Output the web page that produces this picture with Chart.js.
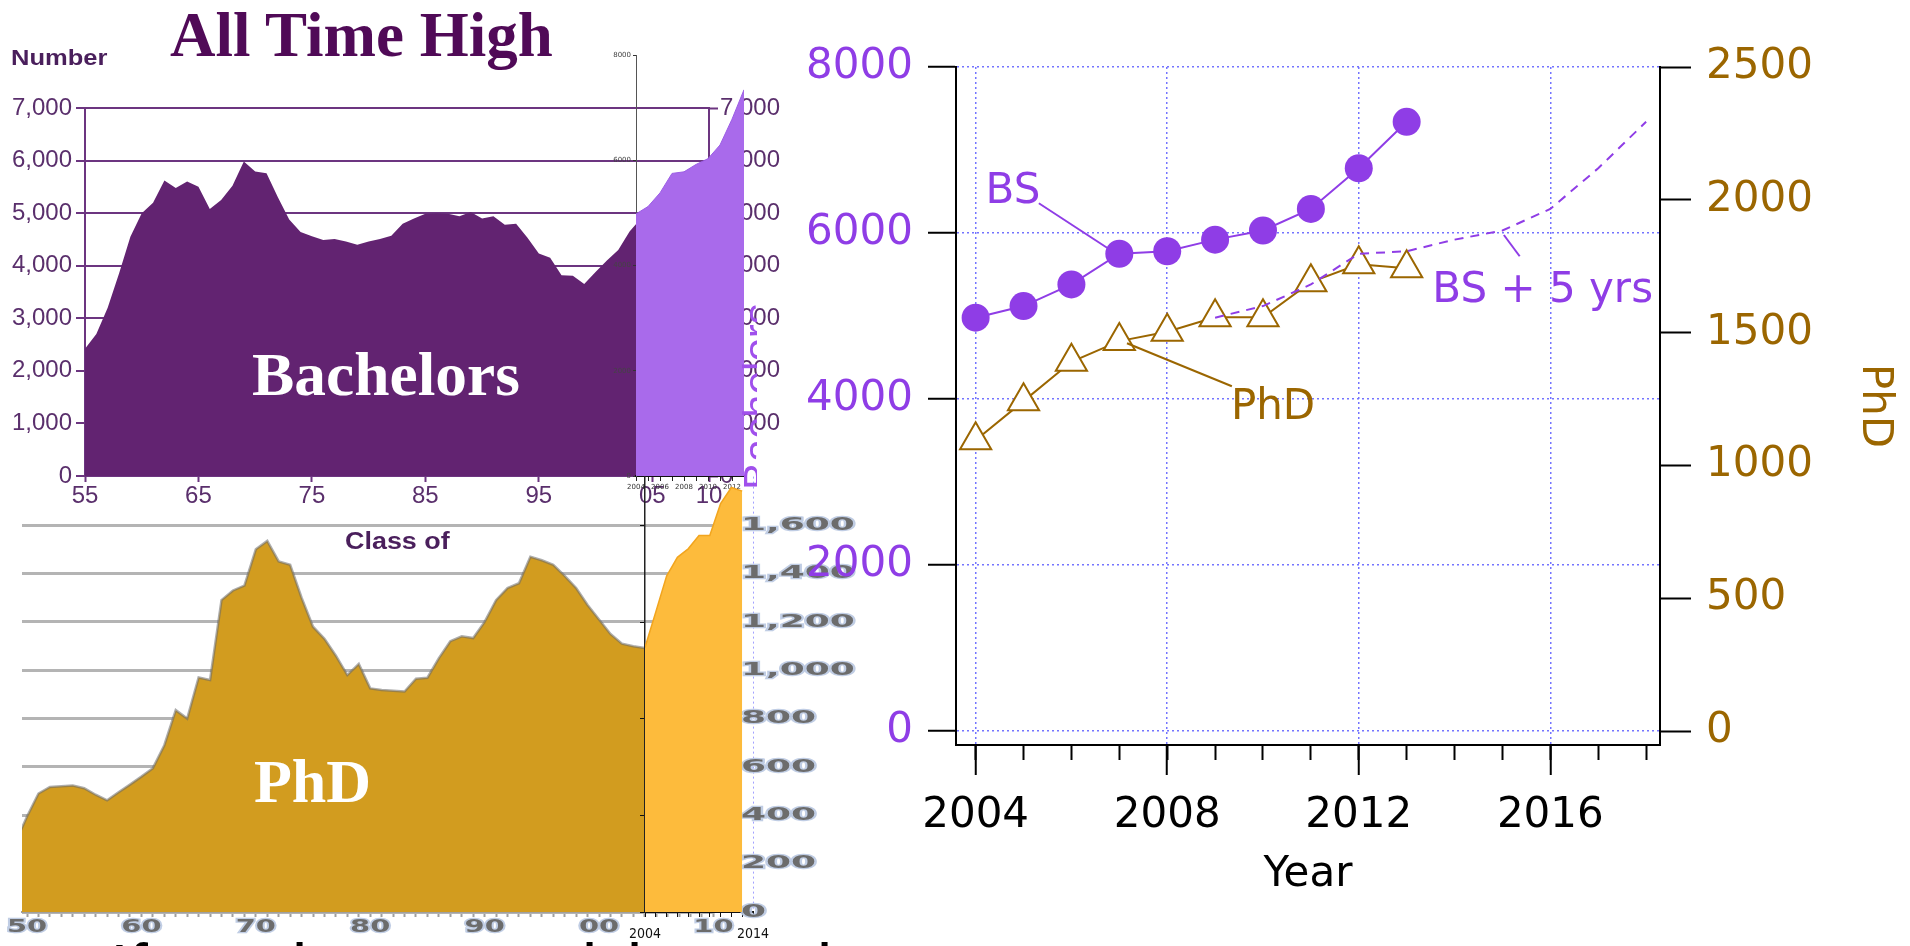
<!DOCTYPE html>
<html>
<head>
<meta charset="utf-8">
<script src="https://cdn.jsdelivr.net/npm/chart.js@4.4.1/dist/chart.umd.min.js"></script>
<style>
  html, body { margin: 0; padding: 0; background: #fff; width: 1910px; height: 946px; overflow: hidden; }
  canvas { position: absolute; left: 0; top: 0; }
  .t { position: absolute; white-space: nowrap; transform-origin: 0 0; }
</style>
</head>
<body>
<canvas id="bachChart" width="1910" height="946"></canvas>
<canvas id="bachRecent" width="1910" height="946"></canvas>
<canvas id="phdChart" width="1910" height="946"></canvas>
<canvas id="phdRecent" width="1910" height="946"></canvas>
<canvas id="mainChart" width="1910" height="946"></canvas>

<div class="t" style="left:170px;top:4px;font:bold 63px/1 'Liberation Serif';color:#500a57">All Time High</div>
<div class="t" style="left:11px;top:47px;font:bold 22px/1 'Liberation Sans';color:#4a1f5c;transform:scaleX(1.16)">Number</div>
<div class="t" style="left:252px;top:344px;font:bold 61px/1 'Liberation Serif';color:#fff;transform:scaleX(1.04)">Bachelors</div>
<div class="t" style="left:345px;top:530px;font:bold 23px/1 'Liberation Sans';color:#4a1f5c;transform:scaleX(1.17)">Class of</div>
<div class="t" style="left:254px;top:750px;font:bold 62px/1 'Liberation Serif';color:#fff">PhD</div>
<div class="t" style="left:110px;top:934px;font:68px/1 'Liberation Sans';color:#000">If</div>
<div class="t" style="left:292px;top:934px;font:68px/1 'Liberation Sans';color:#000">l</div>
<div class="t" style="left:582px;top:934px;font:68px/1 'Liberation Sans';color:#000">l</div>
<div class="t" style="left:627px;top:934px;font:68px/1 'Liberation Sans';color:#000">lt</div>
<div class="t" style="left:817px;top:934px;font:68px/1 'Liberation Sans';color:#000">l</div>

<script>
// ---- data ----
// Bachelors, class of 1955-2004 (left panel, dark area)
const bachYears = Array.from({length: 50}, (_, i) => 1955 + i);
const bachCounts = [2420, 2700, 3200, 3850, 4550, 5000, 5200, 5620, 5480, 5600,
                    5500, 5080, 5250, 5520, 5980, 5790, 5760, 5300, 4880, 4640,
                    4560, 4490, 4510, 4460, 4400, 4460, 4510, 4570, 4800, 4900,
                    4990, 5000, 4990, 4940, 5020, 4900, 4940, 4780, 4800, 4530,
                    4230, 4150, 3820, 3810, 3650, 3880, 4100, 4300, 4650, 4900];
const bachTickYears = [1955, 1965, 1975, 1985, 1995, 2005, 2010];

// PhD, 1949-2004 (left panel, gold area)
const phdHistYears = Array.from({length: 56}, (_, i) => 1949 + i);
const phdHistCounts = [290, 395, 490, 517, 520, 523, 512, 485, 462, 495,
                       527, 560, 595, 690, 835, 800, 970, 960, 1290, 1330,
                       1350, 1500, 1535, 1450, 1436, 1300, 1180, 1130, 1060, 980,
                       1026, 925, 918, 915, 912, 965, 969, 1050, 1120, 1140,
                       1133, 1200, 1290, 1340, 1360, 1469, 1455, 1436, 1390, 1340,
                       1270, 1210, 1150, 1110, 1099, 1092];
const phdTickYears = Array.from({length: 61}, (_, i) => 1950 + i);
const phdDecades = [1950, 1960, 1970, 1980, 1990, 2000, 2010];
const phdGridTicks = [0, 200, 400, 600, 800, 1000, 1200, 1400, 1600];

// recent years (right panel and light overlays)
const recentYears = [2004, 2005, 2006, 2007, 2008, 2009, 2010, 2011, 2012, 2013];
const bsCounts = [4980, 5120, 5380, 5750, 5780, 5920, 6030, 6290, 6780, 7340];
const phdCounts = [1095, 1242, 1390, 1468, 1503, 1558, 1558, 1690, 1757, 1742];
const bsPlus5Years = [2009, 2010, 2011, 2012, 2013, 2014, 2015, 2016, 2017, 2018];
const bsPlus5 = [4980, 5120, 5380, 5750, 5780, 5920, 6030, 6290, 6780, 7340];

const yearTicks = [2004, 2005, 2006, 2007, 2008, 2009, 2010, 2011, 2012, 2013, 2014, 2015, 2016, 2017, 2018];
const majorYears = [2004, 2008, 2012, 2016];
const bsTicks = [0, 2000, 4000, 6000, 8000];
const phdTicks = [0, 500, 1000, 1500, 2000, 2500];

// ---- styling ----
const PURPLE = '#8f3de6';
const BROWN = '#9b6600';
const GRID_BLUE = '#7474ff';
const DARK_PURPLE = '#622371';
const LINE_PURPLE = '#6c3580';
const LABEL_PURPLE = '#5a2f6c';

Chart.defaults.font.family = '"DejaVu Sans", sans-serif';
Chart.defaults.animation = false;

const pts = (xs, ys) => xs.map((x, i) => ({x, y: ys[i]}));
const setTicks = list => s => { s.ticks = list.map(v => ({value: v})); };
const fixW = w => s => { s.width = w; };
const fixH = h => s => { s.height = h; };
const base = padding => ({
  responsive: false, animation: false, devicePixelRatio: 1,
  layout: {padding},
  plugins: {legend: {display: false}, tooltip: {enabled: false}}
});

// wide, embossed grey labels of the pasted PhD chart
function wideLabel(ctx, text, x, y, sx, font, align) {
  ctx.save();
  ctx.font = font;
  ctx.textBaseline = 'middle';
  ctx.translate(x, y);
  ctx.scale(sx, 1);
  const w = ctx.measureText(text).width;
  const dx = align === 'center' ? -w / 2 : 0;
  ctx.lineWidth = 2.5;
  ctx.strokeStyle = 'rgba(185,200,225,0.9)';
  ctx.strokeText(text, dx, 0);
  ctx.fillStyle = '#6c6c6c';
  ctx.fillText(text, dx, 0);
  ctx.restore();
}

// ---- top left: Bachelors 1955-2004 ----
new Chart(document.getElementById('bachChart'), {
  type: 'line',
  data: {datasets: [{
    data: pts(bachYears, bachCounts), fill: 'origin', backgroundColor: DARK_PURPLE,
    borderWidth: 0, pointRadius: 0
  }]},
  options: Object.assign(base({left: 0, right: 1910 - 709 - 120, top: 108, bottom: 946 - 476 - 40}), {
    scales: {
      x: {
        type: 'linear', min: 1955, max: 2010,
        afterFit: fixH(40), afterBuildTicks: setTicks(bachTickYears),
        ticks: {callback: v => String(v % 100).padStart(2, '0'), color: LABEL_PURPLE,
                font: {size: 24, family: 'Liberation Sans'}, padding: 0, maxRotation: 0, autoSkip: false},
        grid: {drawOnChartArea: false, tickLength: 6, tickColor: LINE_PURPLE, tickWidth: 2},
        border: {color: LINE_PURPLE, width: 2}
      },
      y: {
        min: 0, max: 7000, afterFit: fixW(85),
        ticks: {stepSize: 1000, callback: v => v.toLocaleString('en-US'), color: LABEL_PURPLE,
                font: {size: 24, family: 'Liberation Sans'}, padding: 4},
        grid: {color: LINE_PURPLE, lineWidth: 2, tickLength: 9, tickColor: LINE_PURPLE, tickWidth: 2},
        border: {color: LINE_PURPLE, width: 2}
      },
      yr: {
        position: 'right', min: 0, max: 7000, afterFit: fixW(120),
        ticks: {stepSize: 1000, callback: v => v.toLocaleString('en-US'), color: LABEL_PURPLE,
                font: {size: 24, family: 'Liberation Sans'}, padding: 2},
        grid: {drawOnChartArea: false, tickLength: 9, tickColor: LINE_PURPLE, tickWidth: 2},
        border: {color: LINE_PURPLE, width: 2}
      }
    }
  })
});

// ---- light purple overlay: Bachelors 2004-2013 ----
const rotatedTitle = {
  id: 'rotatedTitle',
  afterDraw(chart) {
    const ctx = chart.ctx;
    ctx.save();
    ctx.beginPath();
    ctx.rect(740, 270, 17, 230);
    ctx.clip();
    ctx.translate(773, 490);
    ctx.rotate(-Math.PI / 2);
    ctx.font = '42px "Liberation Sans"';
    ctx.fillStyle = '#a050ec';
    ctx.fillText('Bachelors', 0, 0);
    ctx.restore();
  }
};
new Chart(document.getElementById('bachRecent'), {
  type: 'line',
  data: {datasets: [{
    data: pts(recentYears, bsCounts), fill: 'origin', backgroundColor: '#a96aeb',
    borderColor: '#9b5de5', borderWidth: 1, pointRadius: 0
  }]},
  options: Object.assign(base({left: 636 - 40, right: 1910 - 744, top: 55, bottom: 946 - 476 - 20}), {
    scales: {
      x: {
        type: 'linear', min: 2004, max: 2013,
        afterFit: fixH(20), afterBuildTicks: setTicks(recentYears),
        ticks: {callback: v => (v % 2 === 0 ? String(v) : ''), color: '#333', font: {size: 7},
                padding: 2, maxRotation: 0, autoSkip: false},
        grid: {drawOnChartArea: false, tickLength: 5, tickColor: '#222'},
        border: {color: '#111', width: 2}
      },
      y: {
        min: 0, max: 8000, afterFit: fixW(40),
        ticks: {stepSize: 2000, callback: v => String(v), color: '#444', font: {size: 7}, padding: 2},
        grid: {drawOnChartArea: false, tickLength: 3, tickColor: '#333'},
        border: {color: '#555', width: 1}
      }
    }
  }),
  plugins: [rotatedTitle]
});

// ---- bottom left: PhD 1949-2004 ----
const phdDecadeLabels = {
  id: 'phdDecadeLabels',
  afterDraw(chart) {
    const xs = chart.scales.x;
    phdDecades.forEach(v => {
      wideLabel(chart.ctx, String(v % 100).padStart(2, '0'), xs.getPixelForValue(v), 928, 1.7,
                'bold 17px "DejaVu Sans"', 'center');
    });
  }
};
new Chart(document.getElementById('phdChart'), {
  type: 'line',
  data: {datasets: [{
    data: pts(phdHistYears, phdHistCounts), fill: 'origin', backgroundColor: '#d29c1f',
    borderColor: 'rgba(105,105,105,0.55)', borderWidth: 2.5, pointRadius: 0
  }]},
  options: Object.assign(base({left: 22, right: 1910 - 714, top: 501, bottom: 946 - 912}), {
    scales: {
      x: {
        type: 'linear', min: 1949.56, max: 2010.05,
        afterFit: fixH(0), afterBuildTicks: setTicks(phdTickYears),
        ticks: {display: false},
        grid: {drawOnChartArea: false, tickLength: 5, tickColor: '#a0a0a0', tickWidth: 2},
        border: {color: '#a0a0a0', width: 2}
      },
      y: {
        min: 0, max: 1700, afterFit: fixW(0), afterBuildTicks: setTicks(phdGridTicks),
        ticks: {display: false},
        grid: {color: '#b4b4b4', lineWidth: 3, drawTicks: false},
        border: {display: false}
      }
    }
  }),
  plugins: [phdDecadeLabels]
});

// ---- orange overlay: PhD 2004-2013 ----
const phdRightLabels = {
  id: 'phdRightLabels',
  beforeDatasetsDraw(chart) {
    const ys = chart.scales.y;
    phdGridTicks.forEach(v => {
      wideLabel(chart.ctx, v.toLocaleString('en-US'), 741, ys.getPixelForValue(v), 2.0,
                'bold 18px "DejaVu Sans"', 'left');
    });
  }
};
new Chart(document.getElementById('phdRecent'), {
  type: 'line',
  data: {datasets: [{
    data: pts(recentYears, phdCounts), fill: 'origin', backgroundColor: '#fdbb3c',
    borderColor: '#f2a51e', borderWidth: 1.5, pointRadius: 0
  }]},
  options: Object.assign(base({left: 645, right: 1910 - 753, top: 476.6, bottom: 0}), {
    scales: {
      x: {
        type: 'linear', min: 2004, max: 2014,
        afterFit: fixH(946 - 912), afterBuildTicks: setTicks(recentYears.concat([2014])),
        ticks: {callback: v => (v === 2004 || v === 2014 ? String(v) : ''), color: '#111',
                font: {size: 14, family: '"Liberation Sans Narrow", "DejaVu Sans Condensed", sans-serif'},
                padding: 9, maxRotation: 0, autoSkip: false},
        grid: {color: c => (c.tick && c.tick.value === 2014 ? 'rgba(120,120,255,0.7)' : 'rgba(0,0,0,0)'),
               lineWidth: 1, tickLength: 5, tickColor: '#111'},
        border: {color: '#111', width: 2, dash: [2, 3]}
      },
      y: {
        min: 0, max: 1802, afterFit: fixW(0), afterBuildTicks: setTicks([0, 400, 800, 1200, 1600]),
        ticks: {display: false},
        grid: {drawOnChartArea: false, tickLength: 5, tickColor: '#111'},
        border: {color: '#222', width: 1.5}
      }
    }
  }),
  plugins: [phdRightLabels]
});

// ---- right: BS and PhD per year, two axes ----
const callouts = [
  {text: 'BS', axis: 'y', color: PURPLE, at: [2004.78, 6358], from: [2005.32, 6358], to: [2006.76, 5816]},
  {text: 'PhD', axis: 'y2', color: BROWN, at: [2010.21, 1174], from: [2009.35, 1298], to: [2007.16, 1460]},
  {text: 'BS + 5 yrs', axis: 'y', color: PURPLE, at: [2015.84, 5166], from: [2015.36, 5720], to: [2015.03, 5976]}
];
const calloutPlugin = {
  id: 'callouts',
  afterDatasetsDraw(chart) {
    const {ctx, scales} = chart;
    ctx.save();
    ctx.font = '42px "DejaVu Sans"';
    ctx.textAlign = 'center';
    ctx.textBaseline = 'alphabetic';
    callouts.forEach(c => {
      const xs = scales.x, ys = scales[c.axis];
      ctx.strokeStyle = c.color;
      ctx.lineWidth = 2;
      ctx.setLineDash([]);
      ctx.beginPath();
      ctx.moveTo(xs.getPixelForValue(c.from[0]), ys.getPixelForValue(c.from[1]));
      ctx.lineTo(xs.getPixelForValue(c.to[0]), ys.getPixelForValue(c.to[1]));
      ctx.stroke();
      ctx.fillStyle = c.color;
      ctx.fillText(c.text, xs.getPixelForValue(c.at[0]), ys.getPixelForValue(c.at[1]));
    });
    ctx.restore();
  }
};

new Chart(document.getElementById('mainChart'), {
  type: 'line',
  data: {datasets: [
    {label: 'BS + 5 yrs', data: pts(bsPlus5Years, bsPlus5), yAxisID: 'y', borderColor: PURPLE,
     borderWidth: 2, borderDash: [9, 7], pointRadius: 0, order: 0},
    {label: 'BS', data: pts(recentYears, bsCounts), yAxisID: 'y', borderColor: PURPLE, backgroundColor: PURPLE,
     borderWidth: 2, pointRadius: 14, pointBorderWidth: 0, order: 1},
    {label: 'PhD', data: pts(recentYears, phdCounts), yAxisID: 'y2', borderColor: BROWN, borderWidth: 2,
     pointStyle: 'triangle', pointRadius: 18, pointBorderWidth: 2, pointBorderColor: BROWN,
     pointBackgroundColor: '#fff', order: 2}
  ]},
  options: Object.assign(base({left: 0, right: 0, top: 67, bottom: 0}), {
    scales: {
      x: {
        type: 'linear', min: 2003.59, max: 2018.29,
        afterFit: fixH(0), afterBuildTicks: setTicks(yearTicks),
        ticks: {display: false},
        grid: {drawOnChartArea: false, tickLength: 15, tickColor: '#000', tickWidth: 2},
        border: {display: false}
      },
      x2: {
        type: 'linear', position: 'bottom', min: 2003.59, max: 2018.29,
        afterFit: fixH(201), afterBuildTicks: setTicks(majorYears),
        ticks: {callback: v => String(v), color: '#000', font: {size: 42}, padding: 16, maxRotation: 0, autoSkip: false},
        grid: {color: GRID_BLUE, lineWidth: 1.5, tickLength: 30, tickColor: '#000', tickWidth: 2},
        border: {color: '#000', width: 2, dash: [2, 3]},
        title: {display: true, text: 'Year', color: '#000', font: {size: 42}, padding: {top: 0, bottom: 46}}
      },
      y: {
        min: -168.6, max: 8000, afterFit: fixW(956), afterBuildTicks: setTicks(bsTicks),
        ticks: {callback: v => String(v), color: PURPLE, font: {size: 42}, padding: 15},
        grid: {color: GRID_BLUE, lineWidth: 1.5, tickLength: 28, tickColor: '#000', tickWidth: 2},
        border: {color: '#000', width: 2, dash: [2, 3]}
      },
      y2: {
        position: 'right', min: -52.7, max: 2500, afterFit: fixW(250), afterBuildTicks: setTicks(phdTicks),
        ticks: {callback: v => String(v), color: BROWN, font: {size: 42}, padding: 15},
        grid: {drawOnChartArea: false, tickLength: 31, tickColor: '#000', tickWidth: 2},
        border: {color: '#000', width: 2},
        title: {display: true, text: 'PhD', color: BROWN, font: {size: 42}, padding: {top: 11}}
      }
    }
  }),
  plugins: [calloutPlugin]
});
</script>
</body>
</html>
